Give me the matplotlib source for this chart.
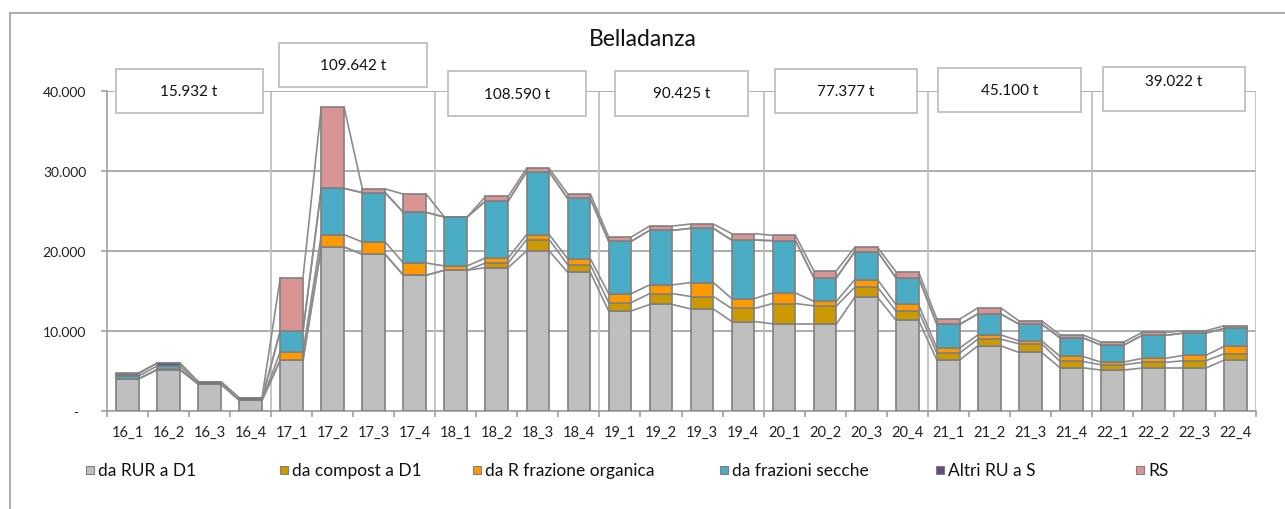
import numpy as np
import matplotlib
matplotlib.use('Agg')
import matplotlib.pyplot as plt
from matplotlib.patches import Rectangle
from matplotlib.lines import Line2D
from matplotlib.ticker import FuncFormatter

plt.rcParams['font.family'] = ['Lato', 'DejaVu Sans']

# data (tonnes per quarter)
quarters = ['16_1', '16_2', '16_3', '16_4', '17_1', '17_2', '17_3', '17_4',
            '18_1', '18_2', '18_3', '18_4', '19_1', '19_2', '19_3', '19_4',
            '20_1', '20_2', '20_3', '20_4', '21_1', '21_2', '21_3', '21_4',
            '22_1', '22_2', '22_3', '22_4']

rur_d1 = [4000, 5130, 3340, 1300, 6340, 20500, 19590, 16960,
          17590, 17920, 20000, 17340, 12500, 13300, 12750, 11170,
          10880, 10880, 14210, 11340, 6340, 8130, 7300, 5380,
          5090, 5340, 5340, 6340]
compost_d1 = [0, 0, 0, 0, 0, 0, 0, 0,
              0, 580, 1420, 960, 1050, 1370, 1550, 1630,
              2540, 2250, 1250, 1160, 870, 830, 1080, 790,
              660, 710, 910, 790]
r_organica = [0, 50, 0, 0, 1040, 1550, 1540, 1540,
              540, 630, 630, 750, 1120, 1080, 1750, 1250,
              1330, 580, 960, 800, 630, 540, 370, 630,
              340, 500, 670, 920]
fraz_secche = [350, 420, 0, 90, 2620, 5790, 6180, 6340,
               6120, 7120, 7870, 7530, 6545, 6835, 6785, 7320,
               6540, 2960, 3500, 3370, 2960, 2630, 2090, 2330,
               2125, 2875, 2795, 2245]
altri_ru_s = [300, 360, 290, 200, 0, 0, 0, 0,
              0, 0, 0, 0, 0, 0, 0, 0,
              0, 0, 0, 0, 0, 0, 0, 0,
              0, 0, 0, 0]
rs = [100, 0, 0, 0, 6680, 10220, 460, 2290,
      0, 580, 420, 590, 540, 540, 540, 800,
      670, 870, 540, 750, 660, 750, 410, 370,
      370, 370, 290, 340]

year_totals = [15932, 109642, 108590, 90425, 77377, 45100, 39022]

series_names = ['da RUR a D1', 'da compost a D1', 'da R frazione organica',
                'da frazioni secche', 'Altri RU a S', 'RS']
colors = ['#BFBFBF', '#CC9900', '#FF9900', '#4BACC6', '#604A7B', '#D99594']

series = [rur_d1, compost_d1, r_organica, fraz_secche, altri_ru_s, rs]

fig = plt.figure(figsize=(12.85, 5.10), dpi=100)
ax = fig.add_axes([107 / 1285, 1 - 411.7 / 510, (1256 - 107) / 1285, (411.7 - 92.3) / 510])

x = np.arange(len(quarters))
w = 0.553
bottom = np.zeros(len(quarters))
levels = []
for vals, name, col in zip(series, series_names, colors):
    vals = np.array(vals, dtype=float)
    ax.bar(x, vals, w, bottom=bottom, color=col, edgecolor='#7F7F7F', linewidth=1.2,
           label=name, zorder=3)
    bottom = bottom + vals
    levels.append(bottom.copy())

# series lines between stacked bars
for lev in levels:
    for i in range(len(x) - 1):
        ax.plot([x[i] + w / 2, x[i + 1] - w / 2], [lev[i], lev[i + 1]],
                color='#8C8C8C', lw=1.2, zorder=2, solid_capstyle='butt')

ax.set_xlim(-0.5, len(quarters) - 0.5)
ax.set_ylim(0, 40000)
ax.set_yticks([0, 10000, 20000, 30000, 40000])
ax.yaxis.set_major_formatter(FuncFormatter(
    lambda v, p: '-  ' if v == 0 else f'{int(v):,}'.replace(',', '.')))
ax.grid(axis='y', color='#A0A0A0', lw=1.2, zorder=0)
ax.set_axisbelow(True)

# year separators
for k in range(4, len(quarters) + 1, 4):
    ax.axvline(k - 0.5, color='#BFBFBF', lw=1.3, zorder=1)

ax.set_xticks(x)
ax.set_xticklabels(quarters)
ax.set_xticks(np.arange(-0.5, len(quarters), 1), minor=True)
ax.tick_params(axis='x', which='major', length=0, pad=10, labelsize=10.5, colors='#222222')
ax.tick_params(axis='x', which='minor', length=4, width=1.2, color='#A0A0A0')
ax.tick_params(axis='y', length=4, width=1.2, color='#A0A0A0', pad=11, labelsize=10,
               labelcolor='#222222')
for s in ['top', 'right']:
    ax.spines[s].set_visible(False)
ax.spines['left'].set_color('#A0A0A0')
ax.spines['left'].set_linewidth(1.2)
ax.spines['bottom'].set_color('#A0A0A0')
ax.spines['bottom'].set_linewidth(1.2)

# yearly total boxes
box_cy = [40050, 43300, 39700, 39750, 40050, 40160, 40290]
box_w = [3.58, 3.6, 3.36, 3.24, 3.46, 3.48, 3.48]
box_h = 5600
for j, tot in enumerate(year_totals):
    cx = 4 * j + 1.5
    ax.add_patch(Rectangle((cx - box_w[j] / 2, box_cy[j] - box_h / 2), box_w[j], box_h,
                           facecolor='white', edgecolor='#BFBFBF', lw=1.3,
                           clip_on=False, zorder=5))
    ty = box_cy[j] + (1000 if j == 6 else 0)
    ax.text(cx, ty, f'{tot:,}'.replace(',', '.') + ' t', ha='center', va='center',
            fontsize=11, color='#111111', zorder=6, clip_on=False)

fig.text(0.5, 1 - 40 / 510, 'Belladanza', ha='center', va='center', fontsize=16.5,
         color='#111111')

# legend
leg_x = [86, 280, 473, 720, 936, 1136]
leg_y = 471
for lx, name, col in zip(leg_x, series_names, colors):
    fig.patches.append(Rectangle((lx / 1285, 1 - (leg_y + 4) / 510), 8 / 1285, 8 / 510,
                                 transform=fig.transFigure, facecolor=col,
                                 edgecolor='#7F7F7F', lw=0.8))
    fig.text((lx + 12) / 1285, 1 - leg_y / 510, name, ha='left', va='center',
             fontsize=12.5, color='#111111')

# chart frame (left and top edges visible)
fig.lines.append(Line2D([9.7 / 1285, 9.7 / 1285], [0, 1 - 14 / 510],
                        transform=fig.transFigure, color='#A0A0A0', lw=1.2))
fig.lines.append(Line2D([9.7 / 1285, 1], [1 - 14 / 510, 1 - 14 / 510],
                        transform=fig.transFigure, color='#A0A0A0', lw=1.2))

fig.savefig('out.png', dpi=100, facecolor='white')
